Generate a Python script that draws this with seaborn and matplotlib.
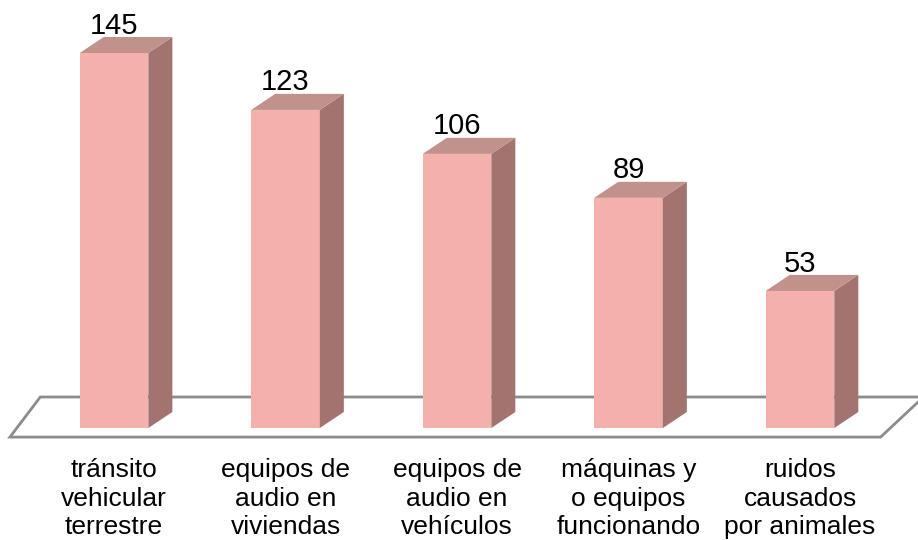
import pandas as pd
import numpy as np
import matplotlib.pyplot as plt
import seaborn as sns
from matplotlib.patches import Polygon

categories = ["tránsito\nvehicular\nterrestre", "equipos de\naudio en\nviviendas",
              "equipos de\naudio en\nvehículos", "máquinas y\no equipos\nfuncionando",
              "ruidos\ncausados\npor animales"]
values = [145, 123, 106, 89, 53]

FRONT = "#f4b0ab"
SIDE  = "#a2736f"
TOP   = "#c1918c"

df = pd.DataFrame({"cat": categories, "val": values})

sns.set_style("white")
plt.rcParams["font.family"] = ["Liberation Sans", "DejaVu Sans"]

fig = plt.figure(figsize=(9.18, 5.4), dpi=100)
ax = fig.add_axes([0, 0, 1, 1])
sns.barplot(data=df, x="cat", y="val", color=FRONT, saturation=1, width=0.4,
            linewidth=0, ax=ax, zorder=3)

ax.set_xlim(-0.665, 4.688)
ax.set_ylim(-43.3, 165.5)
ax.axis("off")

dx, dy = 0.14, 6.2   # depth offset for the 3d look

for p in ax.patches:
    x0, w, h = p.get_x(), p.get_width(), p.get_height()
    x1 = x0 + w
    side = Polygon([(x1, 0), (x1 + dx, dy), (x1 + dx, h + dy), (x1, h)],
                   closed=True, fc=SIDE, ec="none", zorder=3)
    top = Polygon([(x0, h), (x1, h), (x1 + dx, h + dy), (x0 + dx, h + dy)],
                  closed=True, fc=TOP, ec="none", zorder=3)
    ax.add_patch(side)
    ax.add_patch(top)
    ax.text(x0 + w / 2, h + dy - 1.0, f"{h:.0f}", ha="center", va="bottom",
            fontsize=21, color="black", zorder=4)

# floor plane
floor = Polygon([(-0.607, -3.5), (4.47, -3.5), (4.72, 12.0), (-0.43, 12.0)],
                closed=True, fc="white", ec="#8c8c8c", lw=2, zorder=1)
ax.add_patch(floor)

for i, c in enumerate(categories):
    ax.text(i, -11.5, c, ha="center", va="top", fontsize=19,
            linespacing=1.25, color="black")

fig.savefig("out.png", dpi=100)
